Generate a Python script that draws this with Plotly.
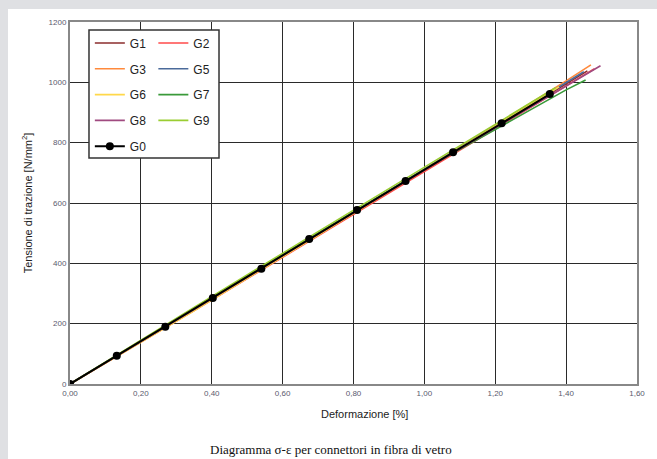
import plotly.graph_objects as go

# ---- data ----
names = ["G1", "G2", "G3", "G5", "G6", "G7", "G8", "G9"]
colors = ["#8b2c2c", "#ff4a4a", "#ff8a3c", "#4a6a9a", "#ffd84a", "#3a9a3a", "#a04a80", "#9acd32"]

g1_x = [0, 0.35, 0.70, 1.05, 1.40, 1.46]
g1_y = [0, 246, 494, 743, 995, 1038]
g2_x = [0, 0.36, 0.72, 1.08, 1.44, 1.48]
g2_y = [0, 250, 505, 762, 1018, 1045]
g3_x = [0, 0.35, 0.70, 1.05, 1.40, 1.47]
g3_y = [0, 244, 494, 747, 1005, 1058]
g5_x = [0, 0.35, 0.70, 1.05, 1.40, 1.45]
g5_y = [0, 248, 498, 748, 998, 1035]
g6_x = [0, 0.35, 0.70, 1.05, 1.38]
g6_y = [0, 243, 494, 746, 985]
g7_x = [0, 0.35, 0.70, 1.05, 1.40, 1.455]
g7_y = [0, 250, 500, 745, 975, 1008]
g8_x = [0, 0.35, 0.70, 1.05, 1.40, 1.497]
g8_y = [0, 247, 497, 745, 988, 1055]
g9_x = [0, 0.35, 0.70, 1.05, 1.37]
g9_y = [0, 254, 505, 754, 982]

g0_x = [0, 0.132, 0.269, 0.403, 0.540, 0.675, 0.810, 0.947, 1.081, 1.218, 1.354]
g0_y = [0, 94, 190, 285, 382, 481, 577, 673, 768, 864, 961]

series_x = [g1_x, g2_x, g3_x, g5_x, g6_x, g7_x, g8_x, g9_x]
series_y = [g1_y, g2_y, g3_y, g5_y, g6_y, g7_y, g8_y, g9_y]

x_ticks = [0, 0.2, 0.4, 0.6, 0.8, 1.0, 1.2, 1.4, 1.6]
y_ticks = [0, 200, 400, 600, 800, 1000, 1200]

fig = go.Figure()
for i, (n, c, xs, ys) in enumerate(zip(names, colors, series_x, series_y)):
    fig.add_trace(go.Scatter(
        x=xs, y=ys, mode="lines", name=n,
        line=dict(color=c, width=1.6),
        legend="legend" if i % 2 == 0 else "legend2",
        legendgroup=n,
    ))
fig.add_trace(go.Scatter(
    x=g0_x, y=g0_y, mode="lines+markers", name="G0",
    line=dict(color="black", width=2),
    marker=dict(color="black", size=8),
    legend="legend", legendgroup="G0",
))

legend_common = dict(
    bgcolor="rgba(0,0,0,0)", borderwidth=0,
    font=dict(family="Liberation Sans, Arial", size=12, color="#222"),
    traceorder="grouped", tracegroupgap=6.8,
    xanchor="left", yanchor="top", itemwidth=30,
)

fig.update_layout(
    width=657, height=459,
    margin=dict(l=70, r=20, t=22, b=75),
    paper_bgcolor="white", plot_bgcolor="white",
    separators=",.",
    showlegend=True,
    legend=dict(x=0.035, y=0.982, **legend_common),
    legend2=dict(x=0.147, y=0.982, **legend_common),
    xaxis=dict(
        range=[0, 1.6], tickvals=x_ticks, tickformat=".2f",
        showgrid=True, gridcolor="#2a2a2a", gridwidth=1.2,
        showline=True, linecolor="#888", linewidth=2, mirror=True,
        zeroline=False, ticks="",
        tickfont=dict(family="Liberation Sans, Arial", size=8, color="#5a5a6e"),
    ),
    yaxis=dict(
        range=[0, 1200], tickvals=y_ticks,
        showgrid=True, gridcolor="#2a2a2a", gridwidth=1.2,
        showline=True, linecolor="#888", linewidth=2, mirror=True,
        zeroline=False, ticks="",
        tickfont=dict(family="Liberation Sans, Arial", size=8, color="#5a5a6e"),
        title=dict(text="Tensione di trazione [N/mm<sup>2</sup>]",
                   font=dict(family="Liberation Sans, Arial", size=11, color="#222"),
                   standoff=14),
    ),
    shapes=[
        dict(type="rect", xref="paper", yref="paper", x0=-0.14, x1=1.1, y0=1.0359, y1=1.08,
             fillcolor="#dfe0e3", line=dict(width=0), layer="below"),
        dict(type="rect", xref="paper", yref="paper", x0=-0.14, x1=-0.1093, y0=-0.3, y1=1.08,
             fillcolor="#dfe0e3", line=dict(width=0), layer="below"),
        dict(type="rect", xref="paper", yref="paper", x0=0.0335, x1=0.2628, y0=0.624, y1=0.978,
             fillcolor="white", line=dict(color="#333", width=1.5), layer="above"),
    ],
    annotations=[
        dict(text="Deformazione [%]", xref="paper", yref="paper", x=0.52, y=-0.062,
             xanchor="center", yanchor="top", showarrow=False,
             font=dict(family="Liberation Sans, Arial", size=11, color="#222")),
        dict(text="Diagramma σ-ε per connettori in fibra di vetro", xref="paper", yref="paper",
             x=0.46, y=-0.155, xanchor="center", yanchor="top", showarrow=False,
             font=dict(family="Liberation Serif, Times New Roman", size=13, color="#111")),
    ],
)

fig.write_html(
    "out.html",
    config={"displayModeBar": False},
    post_script="document.body.style.margin='0';document.body.style.overflow='hidden';",
)
